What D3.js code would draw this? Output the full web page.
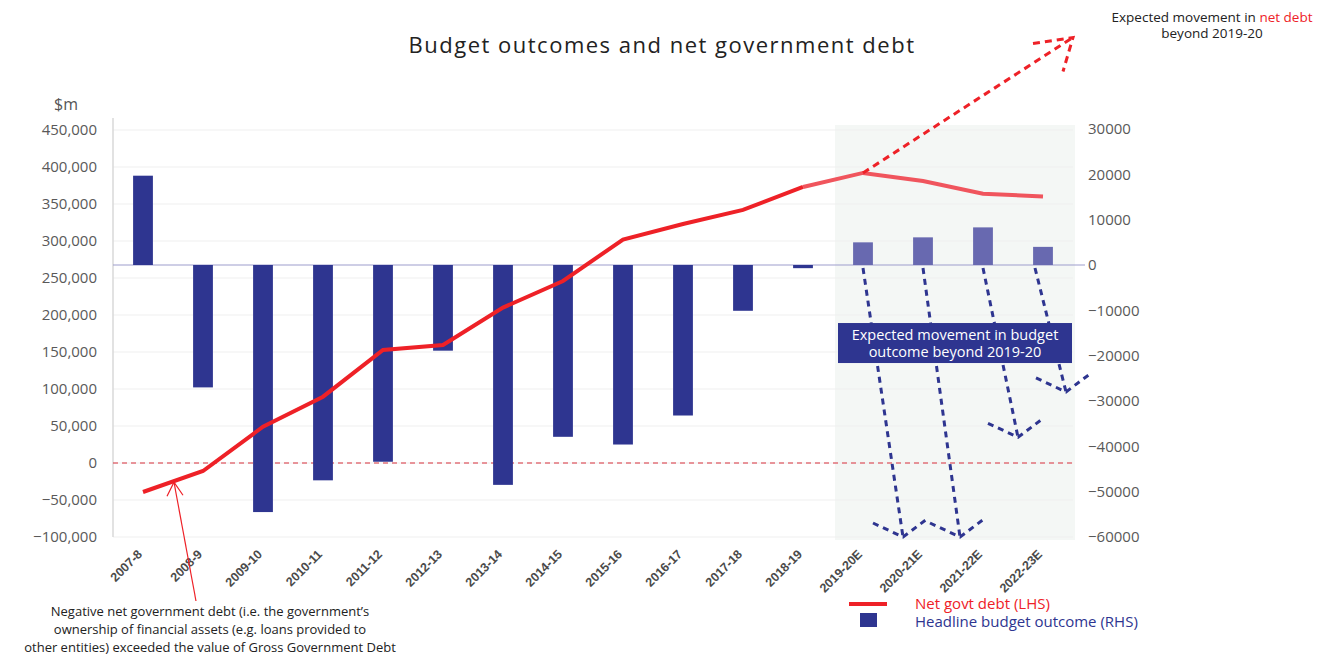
<!DOCTYPE html>
<html>
<head>
<meta charset="utf-8">
<script src="https://cdn.jsdelivr.net/npm/d3@7"></script>
<style>
  body { margin: 0; background: #fff; }
  svg { font-family: "Open Sans", sans-serif; }
</style>
</head>
<body>
<svg id="svg" width="1328" height="658"></svg>
<script>
// chart data
const years = ['2007-8', '2008-9', '2009-10', '2010-11', '2011-12', '2012-13', '2013-14', '2014-15',
  '2015-16', '2016-17', '2017-18', '2018-19', '2019-20E', '2020-21E', '2021-22E', '2022-23E']
const budgetOutcome = [19700, -27000, -54500, -47500, -43400, -18900, -48500, -37900,
  -39600, -33200, -10100, -700, 5000, 6100, 8300, 4000]
const netDebt = [-39200, -10800, 49000, 89600, 152700, 159500, 210000, 246000,
  302000, 323000, 342000, 373000, 392000, 381000, 364000, 360000]
const forecastYears = ['2019-20E', '2020-21E', '2021-22E', '2022-23E']
const budgetArrowTo = [-60000, -60000, -38000, -28000]
const netDebtArrowTo = 575000
const leftTicks = [-100000, -50000, 0, 50000, 100000, 150000, 200000, 250000, 300000, 350000, 400000, 450000]
const rightTicks = [-60000, -50000, -40000, -30000, -20000, -10000, 0, 10000, 20000, 30000]

const svg = d3.select('#svg')
const padding = { top: 130, right: 255, bottom: 121, left: 113 }
const W = 1328 - padding.left - padding.right
const H = 658 - padding.top - padding.bottom

const xBand = d3.scaleBand().domain(years).range([padding.left, padding.left + W])
const yLeft = d3.scaleLinear().domain([-100000, 450000]).range([padding.top + H, padding.top])
const yRight = d3.scaleLinear().domain([-60000, 30000]).range([padding.top + H, padding.top - 1])
const cx = d => xBand(d) + xBand.bandwidth() / 2
const barW = xBand.bandwidth() * 0.33

// forecast shading
svg.append('rect')
  .attr('x', xBand('2019-20E') + 2)
  .attr('y', padding.top - 5)
  .attr('width', xBand('2022-23E') + xBand.bandwidth() - xBand('2019-20E'))
  .attr('height', H + 8)
  .attr('fill', '#f4f7f5')

// gridlines
svg.append('g').selectAll('line')
  .data(leftTicks)
  .enter()
  .append('line')
  .attr('x1', padding.left).attr('x2', padding.left + W)
  .attr('y1', d => yLeft(d)).attr('y2', d => yLeft(d))
  .attr('stroke', '#efefef')

// left axis
const yAxisL = svg.append('g')
  .attr('transform', 'translate(' + padding.left + ',0)')
  .call(d3.axisLeft(yLeft).tickValues(leftTicks).tickSize(0).tickPadding(16).tickFormat(d3.format(',')))
yAxisL.select('.domain').remove()
yAxisL.selectAll('text').attr('font-size', 15).attr('fill', '#595959').attr('font-family', 'Open Sans')

svg.append('line')
  .attr('x1', padding.left).attr('x2', padding.left)
  .attr('y1', padding.top - 12).attr('y2', padding.top + H)
  .attr('stroke', '#d9d9d9').attr('stroke-width', 1.5)

svg.append('text')
  .attr('x', 54).attr('y', 110)
  .attr('font-size', 16).attr('fill', '#555')
  .text('$m')

// right axis
const yAxisR = svg.append('g')
  .attr('transform', 'translate(' + (padding.left + W) + ',0)')
  .call(d3.axisRight(yRight).tickValues(rightTicks).tickSize(0).tickPadding(15).tickFormat(d3.format('d')))
yAxisR.select('.domain').remove()
yAxisR.selectAll('text').attr('font-size', 15).attr('fill', '#595959').attr('font-family', 'Open Sans')

// x axis labels
const xAxis = svg.append('g')
  .attr('transform', 'translate(0,' + (padding.top + H) + ')')
  .call(d3.axisBottom(xBand).tickSize(0).tickPadding(0))
xAxis.select('.domain').remove()
xAxis.selectAll('text')
  .attr('font-size', 12.5).attr('fill', '#4a4a4a').attr('font-weight', 600)
  .attr('text-anchor', 'end')
  .attr('dy', 0)
  .attr('transform', 'translate(0,18) rotate(-45)')

// zero line of budget
svg.append('line')
  .attr('x1', padding.left).attr('x2', padding.left + W + 12)
  .attr('y1', yRight(0)).attr('y2', yRight(0))
  .attr('stroke', '#9d9dcc').attr('stroke-width', 1)

// zero line of debt
svg.append('line')
  .attr('x1', padding.left).attr('x2', padding.left + W)
  .attr('y1', yLeft(0)).attr('y2', yLeft(0))
  .attr('stroke', '#d8303c').attr('stroke-width', 1).attr('stroke-dasharray', '5,4')

// bars
svg.append('g').selectAll('rect')
  .data(years)
  .enter()
  .append('rect')
  .attr('x', d => cx(d) - barW / 2)
  .attr('width', barW)
  .attr('y', (d, i) => yRight(Math.max(0, budgetOutcome[i])))
  .attr('height', (d, i) => Math.abs(yRight(budgetOutcome[i]) - yRight(0)))
  .attr('fill', d => forecastYears.includes(d) ? '#6869b0' : '#2e3590')

// net debt line
const line = d3.line().x(d => cx(d.year)).y(d => yLeft(d.v))
const pts = years.map((y, i) => ({ year: y, v: netDebt[i] }))
svg.append('path')
  .datum(pts.slice(0, 12))
  .attr('d', line)
  .attr('fill', 'none').attr('stroke', '#ee2127').attr('stroke-width', 4)
svg.append('path')
  .datum(pts.slice(11))
  .attr('d', line)
  .attr('fill', 'none').attr('stroke', '#f0555d').attr('stroke-width', 4)

// budget arrows
const arrowOffset = [40, 37, 35, 23]
const startOffset = [0, 0, 0, -8]
const arrows = svg.append('g')
  .attr('fill', 'none').attr('stroke', '#2e3590').attr('stroke-width', 3).attr('stroke-dasharray', '6,5')
forecastYears.forEach((y, i) => {
  const x0 = cx(y) + startOffset[i]
  const x1 = cx(y) + arrowOffset[i]
  const y0 = yRight(0) + 3
  const y1 = yRight(budgetArrowTo[i])
  arrows.append('line').attr('x1', x0).attr('y1', y0).attr('x2', x1).attr('y2', y1)
  arrows.append('path')
    .attr('d', 'M' + (x1 - 30) + ',' + (y1 - 14) + 'L' + x1 + ',' + y1 + 'L' + (x1 + 24) + ',' + (y1 - 18))
})

// box annotation
const boxX = xBand('2019-20E') + 5
svg.append('rect')
  .attr('x', boxX).attr('y', yRight(-12800))
  .attr('width', 234).attr('height', 40)
  .attr('fill', '#2e3590')
const box = svg.append('text')
  .attr('font-size', 14.5).attr('fill', '#fff').attr('text-anchor', 'middle')
box.append('tspan').attr('x', boxX + 117).attr('y', yRight(-12800) + 17).text('Expected movement in budget')
box.append('tspan').attr('x', boxX + 117).attr('y', yRight(-12800) + 34).text('outcome beyond 2019-20')

// net debt arrow
const tipX = padding.left + W
const tipY = yLeft(netDebtArrowTo)
const redArrow = svg.append('g')
  .attr('fill', 'none').attr('stroke', '#ee2127').attr('stroke-width', 3).attr('stroke-dasharray', '7,5')
redArrow.append('line')
  .attr('x1', cx('2019-20E')).attr('y1', yLeft(netDebt[12]))
  .attr('x2', tipX).attr('y2', tipY)
redArrow.append('path')
  .attr('d', 'M' + (tipX - 40) + ',' + (tipY + 6) + 'L' + tipX + ',' + tipY + 'L' + (tipX - 10) + ',' + (tipY + 34))

const topNote = svg.append('text').attr('font-size', 13.5).attr('fill', '#222').attr('text-anchor', 'middle')
const t1 = topNote.append('tspan').attr('x', 1212).attr('y', 22)
t1.append('tspan').text('Expected movement in ')
t1.append('tspan').attr('fill', '#ee2127').text('net debt')
topNote.append('tspan').attr('x', 1212).attr('y', 38).text('beyond 2019-20')

// title
svg.append('text')
  .attr('x', 662).attr('y', 53)
  .attr('text-anchor', 'middle')
  .attr('font-size', 22).attr('fill', '#222').attr('letter-spacing', 1.5)
  .text('Budget outcomes and net government debt')

// negative debt annotation
const arrX = cx('2008-9') - 29
const arrY = yLeft(-26000)
svg.append('line')
  .attr('x1', 196).attr('y1', 601)
  .attr('x2', arrX).attr('y2', arrY)
  .attr('stroke', '#ee2127').attr('stroke-width', 1.2)
svg.append('path')
  .attr('d', 'M' + (arrX - 7) + ',' + (arrY + 14) + 'L' + arrX + ',' + arrY + 'L' + (arrX + 9) + ',' + (arrY + 13))
  .attr('fill', 'none').attr('stroke', '#ee2127').attr('stroke-width', 1.2)
const note = svg.append('text').attr('font-size', 13).attr('fill', '#222').attr('text-anchor', 'middle')
const noteLines = ['Negative net government debt (i.e. the government\u2019s',
  'ownership of financial assets (e.g. loans provided to',
  'other entities) exceeded the value of Gross Government Debt']
noteLines.forEach((t, i) => {
  note.append('tspan').attr('x', 210).attr('y', 616 + i * 18).text(t)
})

// legend
svg.append('line')
  .attr('x1', 849).attr('x2', 887).attr('y1', 604).attr('y2', 604)
  .attr('stroke', '#ee2127').attr('stroke-width', 4)
svg.append('rect')
  .attr('x', 860).attr('y', 613).attr('width', 17).attr('height', 14)
  .attr('fill', '#2e3590')
svg.append('text').attr('x', 915).attr('y', 609).attr('font-size', 15).attr('fill', '#ee2127').text('Net govt debt (LHS)')
svg.append('text').attr('x', 915).attr('y', 627).attr('font-size', 15).attr('fill', '#2e3590').text('Headline budget outcome (RHS)')
</script>
</body>
</html>
